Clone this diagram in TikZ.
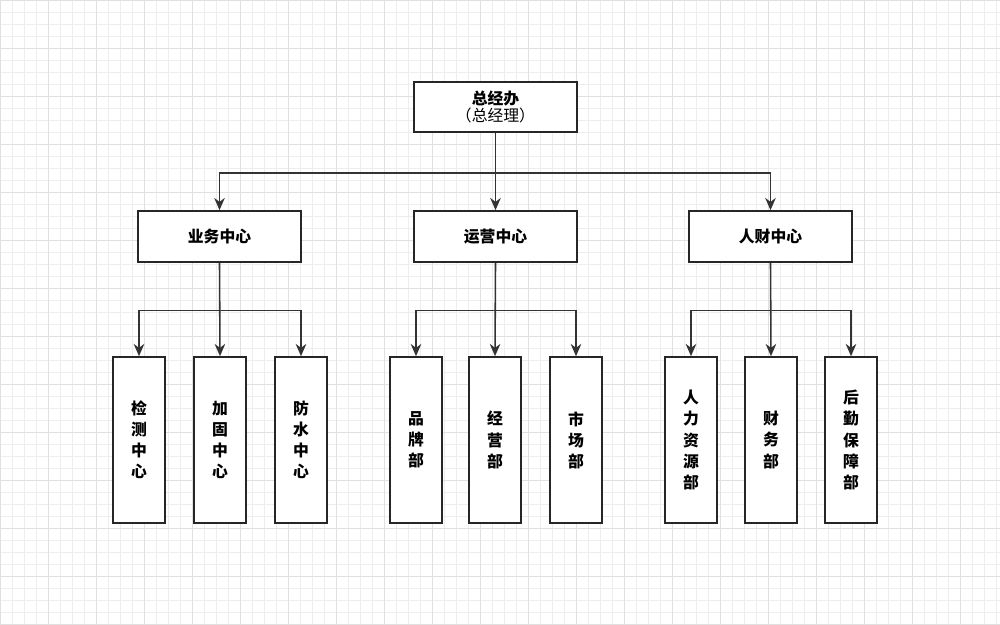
\documentclass[tikz,border=0pt]{standalone}
\usepackage{fontspec}
\newfontfamily\cjk{Noto Sans CJK SC}
\usetikzlibrary{positioning,calc}
\usetikzlibrary{shapes.geometric, arrows, arrows.meta}
\tikzstyle{topbox} = [rectangle, minimum width=3.26cm, minimum height=1cm, align=center, draw=black!85, line width=0.9pt, fill=white, font=\cjk\fontsize{9}{12}\selectfont]
\tikzstyle{centerbox} = [rectangle, minimum width=3.26cm, minimum height=1.02cm, text centered, draw=black!85, line width=0.9pt, fill=white, font=\cjk\bfseries\fontsize{9}{12}\selectfont]
\tikzstyle{deptbox} = [rectangle, minimum width=1.04cm, minimum height=3.32cm, align=center, draw=black!85, line width=0.9pt, fill=white, font=\cjk\bfseries\fontsize{9}{12}\selectfont]
\tikzstyle{arrow} = [line width=0.9pt, draw=black!80, -{Stealth[length=7pt,width=6pt]}]

\begin{document}
\begin{tikzpicture}

% Background grid
	\useasboundingbox (0,0) rectangle (20,-12.5);
	\fill[white] (0,0) rectangle (20,-12.5);
	\draw[black!7, line width=0.3pt, step=0.24] (0,-12.5) grid (20,0);
	\draw[black!12, line width=0.4pt, step=0.96] (0,-12.5) grid (20,0);


% Head office

	\node (gm) [topbox] at (9.91,-2.14) {\textbf{总经办}\\[-2pt]（总经理）};


% Centers

	\node (business) [centerbox] at (4.39,-4.73) {业务中心};

	\node (operation) [centerbox] at (9.91,-4.73) {运营中心};

	\node (hrfinance) [centerbox] at (15.41,-4.73) {人财中心};


% Business departments

	\node (testing) [deptbox] at (2.78,-8.8) {检\\测\\中\\心};

	\node (reinforce) [deptbox] at (4.40,-8.8) {加\\固\\中\\心};

	\node (waterproof) [deptbox] at (6.02,-8.8) {防\\水\\中\\心};


% Operation departments

	\node (brand) [deptbox] at (8.32,-8.8) {品\\牌\\部};

	\node (manage) [deptbox] at (9.90,-8.8) {经\\营\\部};

	\node (market) [deptbox] at (11.52,-8.8) {市\\场\\部};


% HR and finance departments

	\node (hr) [deptbox] at (13.82,-8.8) {人\\力\\资\\源\\部};

	\node (finance) [deptbox] at (15.42,-8.8) {财\\务\\部};

	\node (logistics) [deptbox] at (17.02,-8.8) {后\\勤\\保\\障\\部};


% Bus points
	\coordinate (gmBus) at ($(gm.south)+(0,-0.8)$);
	\coordinate (busBus) at ($(business.south)+(0,-0.95)$);
	\coordinate (opBus) at ($(operation.south)+(0,-0.95)$);
	\coordinate (hrBus) at ($(hrfinance.south)+(0,-0.95)$);


% Head office arrows
	\draw [arrow] (gm.south) -- (operation.north);
	\draw [arrow] (gmBus) -| (business.north);
	\draw [arrow] (gmBus) -| (hrfinance.north);


% Business arrows
	\draw [arrow] (business.south) -- (reinforce.north);
	\draw [arrow] (busBus) -| (testing.north);
	\draw [arrow] (busBus) -| (waterproof.north);


% Operation arrows
	\draw [arrow] (operation.south) -- (manage.north);
	\draw [arrow] (opBus) -| (brand.north);
	\draw [arrow] (opBus) -| (market.north);


% HR and finance arrows
	\draw [arrow] (hrfinance.south) -- (finance.north);
	\draw [arrow] (hrBus) -| (hr.north);
	\draw [arrow] (hrBus) -| (logistics.north);

\end{tikzpicture}
\end{document}
